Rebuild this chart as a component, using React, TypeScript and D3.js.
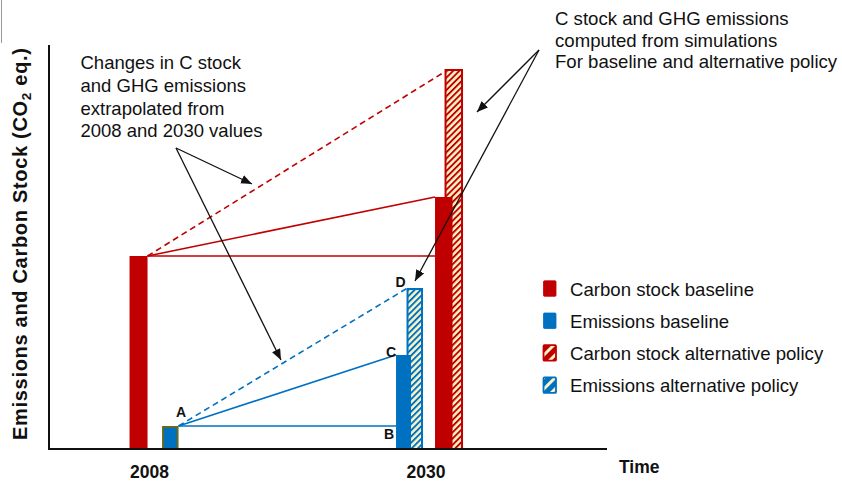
import React from "react";
import * as d3 from "d3";

// ---------- data ----------
const years = [2008, 2030];
const carbonBaseline = [48.25, 63];
const emissionsBaseline = [5.75, 23.5];
const carbonAlternative = [null, 95];
const emissionsAlternative = [null, 40.25];
const pointLabels = ["A", "B", "C", "D"];
const legendLabels = [
  "Carbon stock baseline",
  "Emissions baseline",
  "Carbon stock alternative policy",
  "Emissions alternative policy",
];
const noteLeft = [
  "Changes in C stock",
  "and GHG emissions",
  "extrapolated from",
  "2008 and 2030 values",
];
const noteRight = [
  "C stock and GHG emissions",
  "computed from simulations",
  "For baseline and alternative policy",
];

// ---------- styles ----------
const RED = "#c00000";
const BLUE = "#0070c0";
const OLIVE = "#6e6a14";
const HATCH_BG = "#f9f5c6";
const FONT = "'Liberation Sans', Arial, sans-serif";

const W = 842;
const H = 482;

export default function App() {
  const x = d3.scaleLinear().domain([2000, 2044.4]).range([49, 607]);
  const y = d3.scaleLinear().domain([0, 101]).range([449, 45]);

  const x08 = x(years[0]);
  const x30 = x(years[1]);

  // bar layout (offsets from year centre, px)
  const L = {
    c08: { dx: -20, w: 18 },
    e08: { dx: 12.5, w: 16.5 },
    eAlt: { dx: -19.5, w: 16.5 },
    eBase: { dx: -30, w: 15 },
    cAlt: { dx: 18.5, w: 18.5 },
    cBase: { dx: 9, w: 17.5 },
  };

  const y0 = y(0);
  const redStart: [number, number] = [x08 + L.c08.dx + L.c08.w, y(carbonBaseline[0])];
  const blueStart: [number, number] = [x08 + L.e08.dx + L.e08.w, y(emissionsBaseline[0])];
  const redH: [number, number] = [x30 + L.cBase.dx, y(carbonBaseline[0])];
  const redS: [number, number] = [x30 + L.cBase.dx, y(carbonBaseline[1])];
  const redD: [number, number] = [x30 + L.cAlt.dx + 1.5, y(carbonAlternative[1] as number) + 2];
  const blueB: [number, number] = [x30 + L.eBase.dx, y(emissionsBaseline[0])];
  const blueC: [number, number] = [x30 + L.eBase.dx, y(emissionsBaseline[1])];
  const blueD: [number, number] = [x30 + L.eAlt.dx + 1, y(emissionsAlternative[1] as number)];

  const line = d3.line();

  const labelPos = [
    [blueStart[0] + 2.5, blueStart[1] - 9],
    [blueB[0] - 7, blueB[1] + 13],
    [blueC[0] - 5, blueC[1] + 2],
    [blueD[0] - 7, blueD[1] - 1],
  ];

  const arrows = [
    { from: [176, 148], to: [252, 184] },
    { from: [176, 148], to: [281, 360] },
    { from: [539, 50], to: [477, 112] },
    { from: [539, 50], to: [415, 281] },
  ];

  const legendColors = [
    { fill: RED, stroke: RED, hatch: false },
    { fill: BLUE, stroke: BLUE, hatch: false },
    { fill: "url(#lgRed)", stroke: RED, hatch: true },
    { fill: "url(#lgBlue)", stroke: BLUE, hatch: true },
  ];

  const hatchRect = (cx: number, lay: { dx: number; w: number }, v: number, pat: string, col: string) => (
    <rect
      x={cx + lay.dx + 1}
      y={y(v) + 1}
      width={lay.w - 2}
      height={y0 - y(v) - 1}
      fill={`url(#${pat})`}
      stroke={col}
      strokeWidth={2}
    />
  );

  return (
    <svg
      width={W}
      height={H}
      style={{ position: "absolute", left: 0, top: 0, background: "#fff" }}
      fontFamily={FONT}
    >
      <defs>
        <pattern id="hRed" patternUnits="userSpaceOnUse" width={4.4} height={4.4} patternTransform="rotate(45)">
          <rect width={4.4} height={4.4} fill={HATCH_BG} />
          <rect width={1.9} height={4.4} fill={RED} />
        </pattern>
        <pattern id="hBlue" patternUnits="userSpaceOnUse" width={4.4} height={4.4} patternTransform="rotate(45)">
          <rect width={4.4} height={4.4} fill={HATCH_BG} />
          <rect width={1.9} height={4.4} fill={BLUE} />
        </pattern>
        <pattern id="lgRed" patternUnits="userSpaceOnUse" width={8} height={8} patternTransform="translate(546,0) rotate(45)">
          <rect width={8} height={8} fill={RED} />
          <rect width={3} height={8} fill={HATCH_BG} />
        </pattern>
        <pattern id="lgBlue" patternUnits="userSpaceOnUse" width={8} height={8} patternTransform="translate(546,0) rotate(45)">
          <rect width={8} height={8} fill={BLUE} />
          <rect width={3} height={8} fill={HATCH_BG} />
        </pattern>
        <marker id="ah" markerUnits="userSpaceOnUse" markerWidth={11} markerHeight={9} refX={11} refY={4.5} orient="auto">
          <path d="M0,0 L11,4.5 L0,9 Z" fill="#111" />
        </marker>
      </defs>

      {/* stray frame line */}
      <line x1={1.5} y1={0} x2={1.5} y2={43} stroke="#999" strokeWidth={1} />

      {/* connecting lines */}
      <path d={line([redStart, redH]) as string} stroke={RED} strokeWidth={1.6} fill="none" />
      <path d={line([redStart, redS]) as string} stroke={RED} strokeWidth={1.6} fill="none" />
      <path d={line([redStart, redD]) as string} stroke={RED} strokeWidth={1.6} fill="none" strokeDasharray="6,4" />
      <path d={line([blueStart, blueB]) as string} stroke={BLUE} strokeWidth={1.6} fill="none" />
      <path d={line([blueStart, blueC]) as string} stroke={BLUE} strokeWidth={1.6} fill="none" />
      <path d={line([blueStart, blueD]) as string} stroke={BLUE} strokeWidth={1.6} fill="none" strokeDasharray="6,4" />

      {/* 2008 bars */}
      <rect x={x08 + L.c08.dx} y={y(carbonBaseline[0])} width={L.c08.w} height={y0 - y(carbonBaseline[0])} fill={RED} />
      <rect
        x={x08 + L.e08.dx + 0.9}
        y={y(emissionsBaseline[0]) + 0.9}
        width={L.e08.w - 1.8}
        height={y0 - y(emissionsBaseline[0]) - 0.9}
        fill={BLUE}
        stroke={OLIVE}
        strokeWidth={1.8}
      />

      {/* 2030 bars */}
      {hatchRect(x30, L.eAlt, emissionsAlternative[1] as number, "hBlue", BLUE)}
      <rect x={x30 + L.eBase.dx} y={y(emissionsBaseline[1])} width={L.eBase.w} height={y0 - y(emissionsBaseline[1])} fill={BLUE} />
      {hatchRect(x30, L.cAlt, carbonAlternative[1] as number, "hRed", RED)}
      <rect x={x30 + L.cBase.dx} y={y(carbonBaseline[1])} width={L.cBase.w} height={y0 - y(carbonBaseline[1])} fill={RED} />

      {/* axes */}
      <path
        d={`M${x(2000)},${y(101)} L${x(2000)},${y0} L${x(2044.4)},${y0}`}
        fill="none"
        stroke="#111"
        strokeWidth={2}
      />
      {years.map((yr) => (
        <text key={yr} x={x(yr)} y={478} textAnchor="middle" fontWeight="bold" fontSize={17.5} fill="#111">
          {yr}
        </text>
      ))}
      <text x={619} y={473} fontWeight="bold" fontSize={17.5} fill="#111">Time</text>
      <text
        transform={`translate(27,${(y(0) + y(101)) / 2 - 3}) rotate(-90)`}
        textAnchor="middle"
        fontWeight="bold"
        fontSize={20}
        fill="#111"
        textLength={392}
        lengthAdjust="spacing"
      >
        Emissions and Carbon Stock (CO
        <tspan fontSize={13.5} dy={4}>2</tspan>
        <tspan dy={-4}> eq.)</tspan>
      </text>

      {/* point labels */}
      {pointLabels.map((t, i) => (
        <text key={t} x={labelPos[i][0]} y={labelPos[i][1]} textAnchor="middle" fontWeight="bold" fontSize={14} fill="#111">
          {t}
        </text>
      ))}

      {/* annotations */}
      {noteLeft.map((t, i) => (
        <text key={t} x={80.5} y={69.3 + i * 22.7} fontSize={18.5} fill="#111">{t}</text>
      ))}
      {noteRight.map((t, i) => (
        <text key={t} x={555} y={25 + i * 21.7} fontSize={18.6} fill="#111">{t}</text>
      ))}
      {arrows.map((a, i) => (
        <line
          key={i}
          x1={a.from[0]}
          y1={a.from[1]}
          x2={a.to[0]}
          y2={a.to[1]}
          stroke="#111"
          strokeWidth={1.3}
          markerEnd="url(#ah)"
        />
      ))}

      {/* legend */}
      {legendLabels.map((t, i) => {
        const ly = 280 + i * 32.2;
        const c = legendColors[i];
        return (
          <g key={t}>
            <rect
              x={543.5}
              y={ly + 0.8}
              width={12.5}
              height={15.5}
              rx={1}
              fill={c.fill}
              stroke={c.stroke}
              strokeWidth={c.hatch ? 1.8 : 0.8}
            />
            <text x={570} y={ly + 15.5} fontSize={18.6} fill="#111">{t}</text>
          </g>
        );
      })}
    </svg>
  );
}
